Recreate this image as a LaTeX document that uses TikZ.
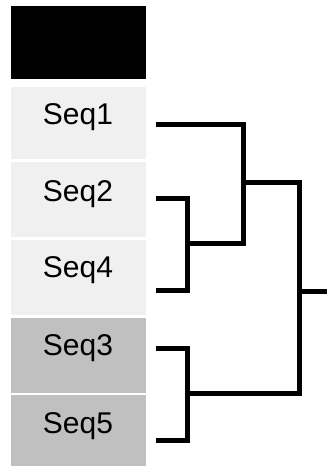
\documentclass[tikz,border=0pt]{standalone}
\usepackage{fontspec}
\setmainfont{Liberation Sans}
\begin{document}
\begin{tikzpicture}[x=1pt,y=-1pt,
  cell/.style={draw=none,inner sep=0pt,minimum width=135pt,anchor=north west},
  lightcell/.style={cell,fill=cellLight},
  darkcell/.style={cell,fill=cellDark},
  seqlabel/.style={anchor=base,inner sep=0pt,font=\fontsize{30}{30}\selectfont},
  branch/.style={line width=5pt,line join=miter,line cap=butt}]
\definecolor{cellLight}{RGB}{240,240,240}
\definecolor{cellDark}{RGB}{192,192,192}
\useasboundingbox (0,0) rectangle (327,467);

% header cell and sequence cells
\node[cell,fill=black,minimum height=73pt] (head) at (11,6) {};
\node[lightcell,minimum height=72pt] (box1) at (11,87) {};
\node[lightcell,minimum height=75pt] (box2) at (11,162) {};
\node[lightcell,minimum height=75pt] (box4) at (11,240) {};
\node[darkcell,minimum height=75pt] (box3) at (11,318) {};
\node[darkcell,minimum height=71pt] (box5) at (11,395) {};

% sequence names
\node[seqlabel] (lab1) at (78,124) {Seq1};
\node[seqlabel] (lab2) at (78,201) {Seq2};
\node[seqlabel] (lab4) at (78,277) {Seq4};
\node[seqlabel] (lab3) at (78,355) {Seq3};
\node[seqlabel] (lab5) at (78,433) {Seq5};

% leaf ends of the tree
\coordinate (s1) at (156,124);
\coordinate (s2) at (156,198);
\coordinate (s4) at (156,290);
\coordinate (s3) at (156,348);
\coordinate (s5) at (156,440);

% internal joins
\coordinate (Abot) at (187.5,290);
\coordinate (Amid) at (187.5,243.5);
\coordinate (Bbot) at (243.3,243.5);
\coordinate (Bmid) at (243.3,182.5);
\coordinate (Dbot) at (187.5,440);
\coordinate (Dmid) at (187.5,393.5);
\coordinate (Cbot) at (299,393.5);
\coordinate (Cmid) at (299,291);
\coordinate (root) at (327,291);

% dendrogram branches
\draw[branch] (s2) -| (Abot) -- (s4);
\draw[branch] (s1) -| (Bbot) -- (Amid);
\draw[branch] (s3) -| (Dbot) -- (s5);
\draw[branch] (Bmid) -| (Cbot) -- (Dmid);
\draw[branch] (Cmid) -- (root);
\end{tikzpicture}
\end{document}
